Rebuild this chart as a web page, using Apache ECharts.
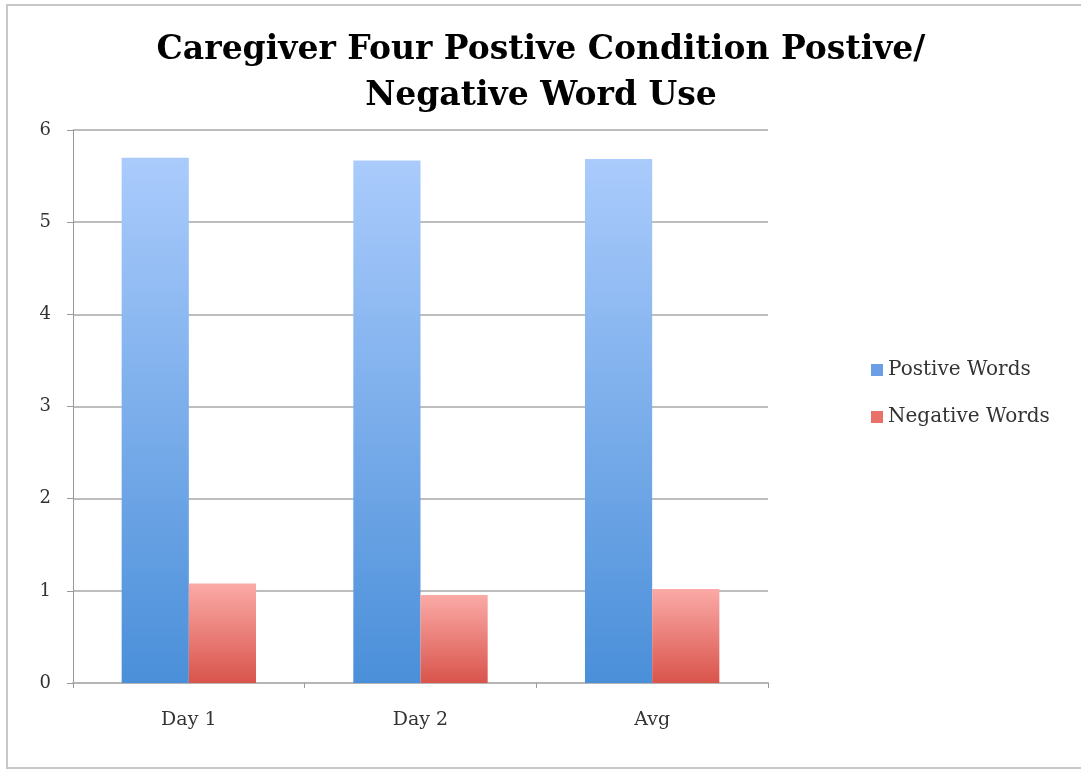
<!DOCTYPE html>
<html>
<head>
<meta charset="utf-8">
<style>
  html, body { margin: 0; padding: 0; background: #fff; }
  #chart { width: 1081px; height: 770px; }
</style>
<script src="https://cdn.jsdelivr.net/npm/echarts@6/dist/echarts.min.js"></script>
</head>
<body>
<div id="chart"></div>
<script>
// data
var categories = ['Day 1', 'Day 2', 'Avg'];
var positiveWords = [5.70, 5.67, 5.685];
var negativeWords = [1.08, 0.955, 1.02];
var yTicks = [0, 1, 2, 3, 4, 5, 6];

var serif = '"DejaVu Serif", "Liberation Serif", serif';

function grad(top, bottom) {
    return new echarts.graphic.LinearGradient(0, 0, 0, 1, [
        { offset: 0, color: top },
        { offset: 1, color: bottom }
    ]);
}

var myChart = echarts.init(document.getElementById('chart'));

var option = {
    animation: false,
    backgroundColor: '#fff',
    title: {
        text: 'Caregiver Four Postive Condition Postive/\nNegative Word Use',
        left: 536,
        textAlign: 'center',
        top: 22,
        textStyle: {
            fontFamily: serif,
            fontWeight: 'bold',
            fontSize: 33,
            lineHeight: 46,
            color: '#000'
        }
    },
    legend: {
        orient: 'vertical',
        left: 866,
        top: 355,
        itemGap: 27,
        itemWidth: 12,
        itemHeight: 12,
        icon: 'rect',
        textStyle: { fontFamily: serif, fontSize: 20, color: '#333' },
        data: [
            { name: 'Postive Words', itemStyle: { color: '#6a9fe6' } },
            { name: 'Negative Words', itemStyle: { color: '#e8716a' } }
        ]
    },
    graphic: [{
        type: 'rect',
        shape: { x: 7, y: 5, width: 1080, height: 763 },
        style: { fill: 'none', stroke: '#c8c8c8', lineWidth: 2 },
        silent: true
    }],
    grid: {
        left: 73,
        top: 130,
        width: 695,
        height: 553
    },
    xAxis: {
        type: 'category',
        data: categories,
        axisLine: { lineStyle: { color: '#b5b5b5', width: 2 } },
        axisTick: { show: true, length: 5, lineStyle: { color: '#999' } },
        axisLabel: { fontFamily: serif, fontSize: 19, color: '#333', margin: 28 }
    },
    yAxis: {
        type: 'value',
        min: yTicks[0],
        max: yTicks[yTicks.length - 1],
        interval: 1,
        axisLine: { show: true, lineStyle: { color: '#999', width: 1 } },
        axisTick: { show: true, length: 6, lineStyle: { color: '#999' } },
        axisLabel: { fontFamily: serif, fontSize: 18, color: '#333', margin: 22 },
        splitLine: { lineStyle: { color: '#bdbdbd', width: 2 } }
    },
    series: [
        {
            name: 'Postive Words',
            type: 'bar',
            data: positiveWords,
            barGap: '0%',
            barCategoryGap: '42%',
            itemStyle: { color: grad('#aacbfc', '#4a8fd9') }
        },
        {
            name: 'Negative Words',
            type: 'bar',
            data: negativeWords,
            itemStyle: { color: grad('#fbaaa7', '#d9544b') }
        }
    ]
};

myChart.setOption(option);
</script>
</body>
</html>
